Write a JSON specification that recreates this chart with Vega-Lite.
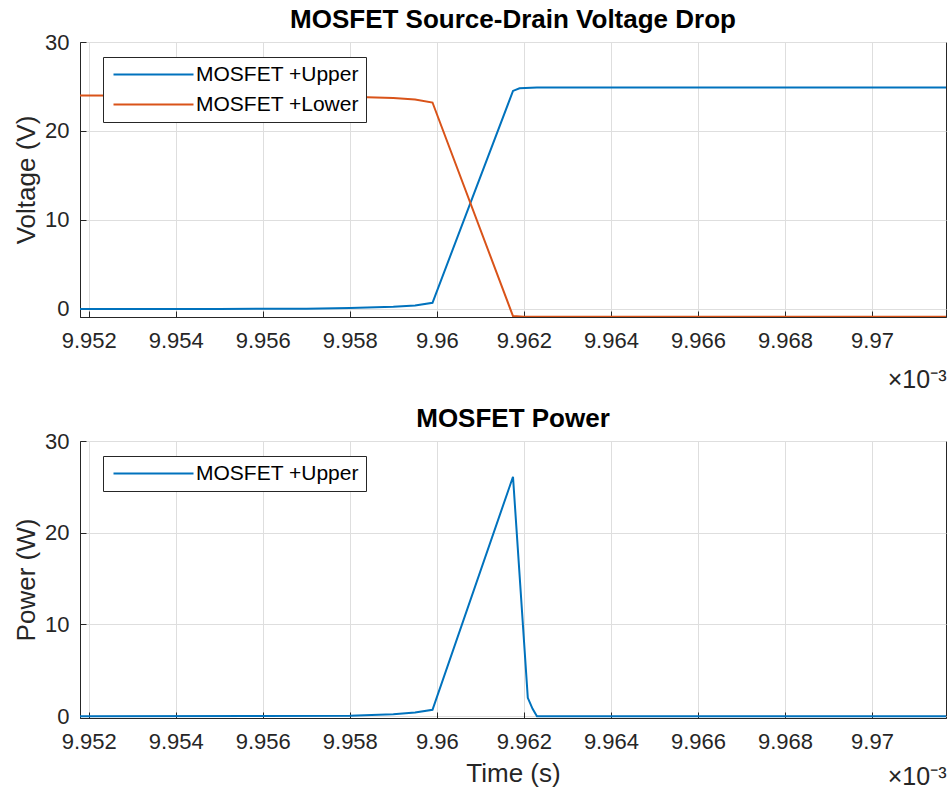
{
  "$schema": "https://vega.github.io/schema/vega-lite/v6.json",
  "padding": {"left": 13, "top": 6, "right": 6, "bottom": 2},
  "background": "white",
  "config": {
    "font": "Liberation Sans",
    "view": {"stroke": "#262626", "strokeWidth": 1},
    "axis": {
      "domainColor": "#262626", "tickColor": "#262626", "labelColor": "#262626", "titleColor": "#262626",
      "labelFont": "Liberation Sans", "titleFont": "Liberation Sans",
      "labelFontSize": 22, "titleFontSize": 26, "titleFontWeight": "normal",
      "gridColor": "#dedede", "gridOpacity": 1, "tickSize": -6, "labelPadding": 19
    },
    "title": {"font": "Liberation Sans", "fontSize": 26, "fontWeight": "bold", "color": "#000000", "offset": -2},
    "legend": {
      "strokeColor": "#262626", "fillColor": "white", "padding": 7, "cornerRadius": 0,
      "symbolType": "M-8,0H8", "symbolSize": 100, "symbolStrokeWidth": 2, "symbolOffset": 33,
      "labelFont": "Liberation Sans", "labelFontSize": 21, "labelColor": "#000000", "labelOffset": 32, "labelLimit": 400,
      "rowPadding": 8, "orient": "none", "legendX": 23, "legendY": 15
    }
  },
  "title": {"text": "×10⁻³", "orient": "bottom", "anchor": "end", "fontSize": 25, "fontWeight": "normal", "color": "#262626", "offset": -22},
  "spacing": 12,
  "resolve": {"scale": {"color": "independent"}},
  "vconcat": [
    {
      "title": "MOSFET Source-Drain Voltage Drop",
      "width": 866,
      "height": 275,
      "data": {"values": [
        {"t": 9.9518, "v": 0.0, "series": "MOSFET +Upper"},
        {"t": 9.955, "v": 0.01, "series": "MOSFET +Upper"},
        {"t": 9.957, "v": 0.04, "series": "MOSFET +Upper"},
        {"t": 9.958, "v": 0.1, "series": "MOSFET +Upper"},
        {"t": 9.959, "v": 0.25, "series": "MOSFET +Upper"},
        {"t": 9.9595, "v": 0.4, "series": "MOSFET +Upper"},
        {"t": 9.9599, "v": 0.7, "series": "MOSFET +Upper"},
        {"t": 9.96175, "v": 24.5, "series": "MOSFET +Upper"},
        {"t": 9.9619, "v": 24.8, "series": "MOSFET +Upper"},
        {"t": 9.9623, "v": 24.9, "series": "MOSFET +Upper"},
        {"t": 9.9717, "v": 24.9, "series": "MOSFET +Upper"},
        {"t": 9.9518, "v": 24.0, "series": "MOSFET +Lower"},
        {"t": 9.956, "v": 23.95, "series": "MOSFET +Lower"},
        {"t": 9.958, "v": 23.85, "series": "MOSFET +Lower"},
        {"t": 9.959, "v": 23.7, "series": "MOSFET +Lower"},
        {"t": 9.9595, "v": 23.55, "series": "MOSFET +Lower"},
        {"t": 9.9599, "v": 23.2, "series": "MOSFET +Lower"},
        {"t": 9.96175, "v": -0.8, "series": "MOSFET +Lower"},
        {"t": 9.962, "v": -0.86, "series": "MOSFET +Lower"},
        {"t": 9.9717, "v": -0.86, "series": "MOSFET +Lower"}
      ]},
      "mark": {"type": "line", "strokeWidth": 2, "clip": true},
      "encoding": {
        "x": {"field": "t", "type": "quantitative",
          "scale": {"domain": [9.9518, 9.9717], "nice": false, "zero": false},
          "axis": {"values": [9.952, 9.954, 9.956, 9.958, 9.96, 9.962, 9.964, 9.966, 9.968, 9.97], "format": "~g",
            "title": "×10⁻³", "titleFontSize": 25, "titleAnchor": "end", "titleAlign": "right", "titlePadding": 16}},
        "y": {"field": "v", "type": "quantitative",
          "scale": {"domain": [-0.9, 30], "nice": false, "zero": false},
          "axis": {"values": [0, 10, 20, 30], "title": "Voltage (V)", "labelPadding": 17, "titlePadding": 5}},
        "color": {"field": "series", "type": "nominal", "sort": null,
          "scale": {"domain": ["MOSFET +Upper", "MOSFET +Lower"], "range": ["#0072BD", "#D95319"]},
          "legend": {"title": null}}
      }
    },
    {
      "title": "MOSFET Power",
      "width": 866,
      "height": 277,
      "data": {"values": [
        {"t": 9.9518, "p": 0.0, "series": "MOSFET +Upper"},
        {"t": 9.956, "p": 0.01, "series": "MOSFET +Upper"},
        {"t": 9.958, "p": 0.05, "series": "MOSFET +Upper"},
        {"t": 9.959, "p": 0.2, "series": "MOSFET +Upper"},
        {"t": 9.9595, "p": 0.4, "series": "MOSFET +Upper"},
        {"t": 9.9599, "p": 0.7, "series": "MOSFET +Upper"},
        {"t": 9.96175, "p": 26.1, "series": "MOSFET +Upper"},
        {"t": 9.96209, "p": 2.0, "series": "MOSFET +Upper"},
        {"t": 9.9622, "p": 0.8, "series": "MOSFET +Upper"},
        {"t": 9.9623, "p": 0.0, "series": "MOSFET +Upper"},
        {"t": 9.9717, "p": 0.0, "series": "MOSFET +Upper"}
      ]},
      "mark": {"type": "line", "strokeWidth": 2, "clip": true},
      "encoding": {
        "x": {"field": "t", "type": "quantitative",
          "scale": {"domain": [9.9518, 9.9717], "nice": false, "zero": false},
          "axis": {"values": [9.952, 9.954, 9.956, 9.958, 9.96, 9.962, 9.964, 9.966, 9.968, 9.97], "format": "~g",
            "title": "Time (s)", "titlePadding": 8}},
        "y": {"field": "p", "type": "quantitative",
          "scale": {"domain": [-0.2, 30], "nice": false, "zero": false},
          "axis": {"values": [0, 10, 20, 30], "title": "Power (W)", "labelPadding": 17, "titlePadding": 5}},
        "color": {"field": "series", "type": "nominal",
          "scale": {"domain": ["MOSFET +Upper"], "range": ["#0072BD"]},
          "legend": {"title": null}}
      }
    }
  ]
}
